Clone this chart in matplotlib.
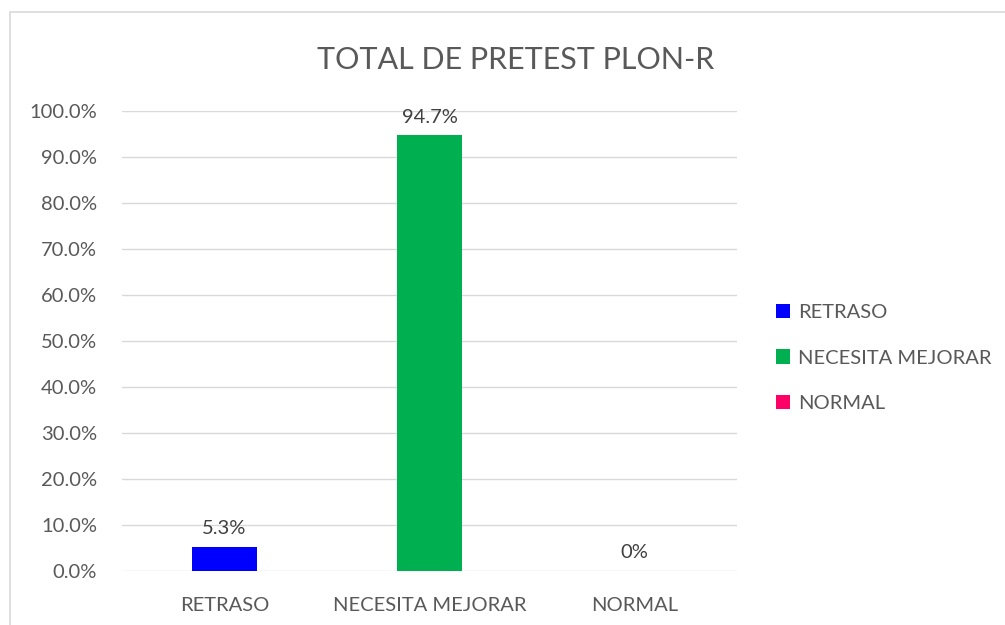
import matplotlib.pyplot as plt
from matplotlib.patches import Rectangle, Patch

categories = ['RETRASO', 'NECESITA MEJORAR', 'NORMAL']
values = [0.053, 0.947, 0.0]
labels = ['5.3%', '94.7%', '0%']
colors = ['#0000FF', '#00B050', '#FF0066']
yticks = [i / 10 for i in range(11)]

plt.rcParams['font.family'] = ['Lato', 'DejaVu Sans']
text_color = '#595959'
fs = 14.5

fig = plt.figure(figsize=(10.05, 6.25), dpi=100)
# chart frame
fig.patches.append(Rectangle((10 / 1005, -0.05), 1.1, (625 - 12) / 625 + 0.05,
                             transform=fig.transFigure, fill=False,
                             edgecolor='#d9d9d9', linewidth=1.2))

ax = fig.add_axes([122 / 1005, 54 / 625, 615 / 1005, 460 / 625])
x = range(len(categories))
bars = ax.bar(x, values, width=0.32, color=colors, zorder=3)

for i, (v, lab) in enumerate(zip(values, labels)):
    ax.annotate(lab, (i, v), xytext=(0, 7), textcoords='offset points',
                ha='center', va='bottom', fontsize=fs, color='#404040')

ax.set_xlim(-0.5, 2.5)
ax.set_ylim(0, 1)
ax.set_yticks(yticks)
ax.set_yticklabels([f'{t * 100:.1f}%' for t in yticks])
ax.set_xticks(list(x))
ax.set_xticklabels(categories)
ax.tick_params(axis='both', length=0, labelsize=fs, colors=text_color)
ax.tick_params(axis='y', pad=18)
ax.tick_params(axis='x', pad=19)
ax.grid(axis='y', color='#d9d9d9', linewidth=1, zorder=0)
for s in ax.spines.values():
    s.set_visible(False)

fig.text(516 / 1005, 1 - 60 / 625, 'TOTAL DE PRETEST PLON-R', ha='center', va='center',
         fontsize=22, color=text_color)

handles = [Patch(facecolor=c) for c in colors]
fig.legend(handles, categories, loc='center left', bbox_to_anchor=(758 / 1005, 1 - 358 / 625),
           frameon=False, fontsize=fs, labelcolor=text_color, handlelength=0.7, handleheight=0.7,
           handletextpad=0.4, labelspacing=1.4)

fig.savefig('out.png', dpi=100)
